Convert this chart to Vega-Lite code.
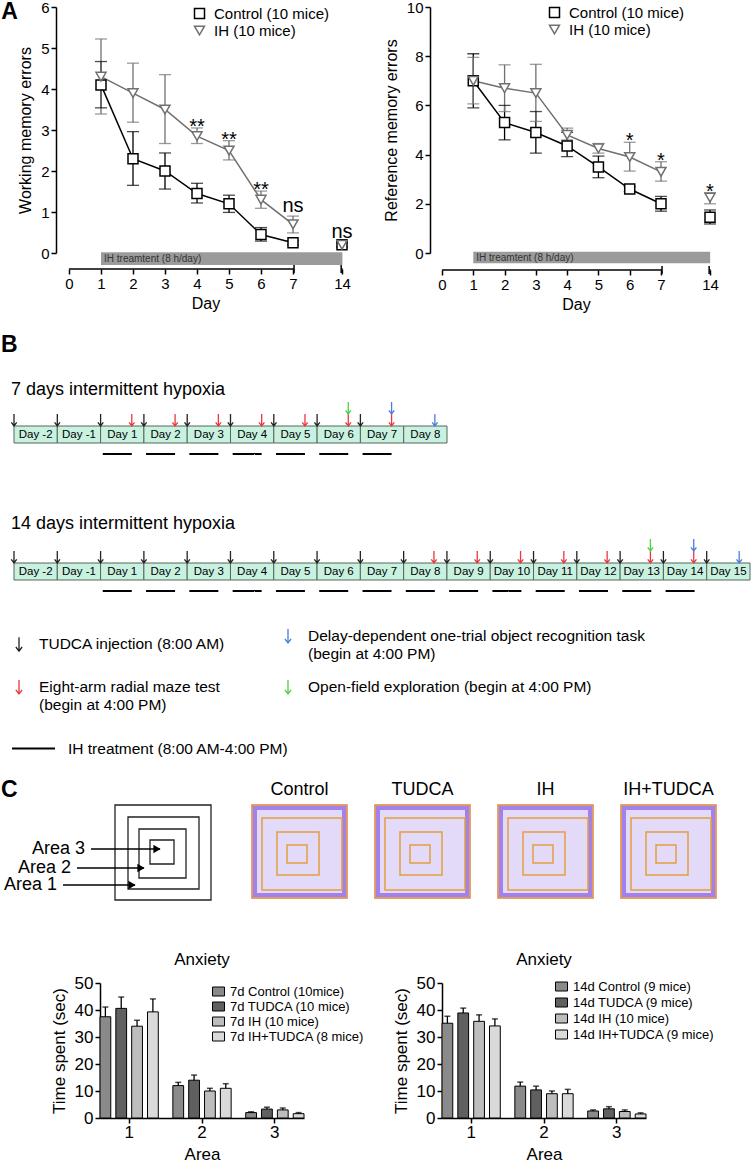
{
"$schema": "https://vega.github.io/schema/vega-lite/v6.json",
"background": "white",
"padding": 0,
"config": {
  "font": "Liberation Sans",
  "view": {"stroke": null},
  "axis": {"grid": false, "domainColor": "#000", "tickColor": "#000", "labelColor": "#000", "titleColor": "#000", "titleFontWeight": "normal", "domainWidth": 1.5, "tickWidth": 1.5, "labelOverlap": false, "labelFlush": false},
  "legend": {"padding": 0, "labelColor": "#000", "labelLimit": 600},
  "title": {"color": "#000", "fontWeight": "normal"},
  "header": {"labelColor": "#000"}
},
"datasets": {
  "wm": [
    {"series": "Control (10 mice)", "day": 1, "mean": 4.1, "lo": 3.54, "hi": 4.67},
    {"series": "Control (10 mice)", "day": 2, "mean": 2.3, "lo": 1.65, "hi": 2.96},
    {"series": "Control (10 mice)", "day": 3, "mean": 2.0, "lo": 1.56, "hi": 2.44},
    {"series": "Control (10 mice)", "day": 4, "mean": 1.45, "lo": 1.22, "hi": 1.7},
    {"series": "Control (10 mice)", "day": 5, "mean": 1.2, "lo": 0.99, "hi": 1.41},
    {"series": "Control (10 mice)", "day": 6, "mean": 0.45, "lo": 0.29, "hi": 0.62},
    {"series": "Control (10 mice)", "day": 7, "mean": 0.25, "lo": 0.2, "hi": 0.3},
    {"series": "Control (10 mice)", "day": 14, "mean": 0.2, "lo": 0.15, "hi": 0.25},
    {"series": "IH (10 mice)", "day": 1, "mean": 4.3, "lo": 3.39, "hi": 5.22},
    {"series": "IH (10 mice)", "day": 2, "mean": 3.9, "lo": 3.19, "hi": 4.63},
    {"series": "IH (10 mice)", "day": 3, "mean": 3.5, "lo": 2.67, "hi": 4.35},
    {"series": "IH (10 mice)", "day": 4, "mean": 2.85, "lo": 2.67, "hi": 3.05, "sig": "**"},
    {"series": "IH (10 mice)", "day": 5, "mean": 2.5, "lo": 2.27, "hi": 2.74, "sig": "**"},
    {"series": "IH (10 mice)", "day": 6, "mean": 1.3, "lo": 1.09, "hi": 1.51, "sig": "**"},
    {"series": "IH (10 mice)", "day": 7, "mean": 0.7, "lo": 0.49, "hi": 0.9, "sig": "ns"},
    {"series": "IH (10 mice)", "day": 14, "mean": 0.2, "lo": 0.14, "hi": 0.27, "sig": "ns"}
  ],
  "rm": [
    {"series": "Control (10 mice)", "day": 1, "mean": 7.0, "lo": 5.9, "hi": 8.1},
    {"series": "Control (10 mice)", "day": 2, "mean": 5.3, "lo": 4.6, "hi": 6.0},
    {"series": "Control (10 mice)", "day": 3, "mean": 4.9, "lo": 4.06, "hi": 5.75},
    {"series": "Control (10 mice)", "day": 4, "mean": 4.35, "lo": 3.92, "hi": 4.9},
    {"series": "Control (10 mice)", "day": 5, "mean": 3.5, "lo": 3.06, "hi": 3.94},
    {"series": "Control (10 mice)", "day": 6, "mean": 2.6, "lo": 2.5, "hi": 2.7},
    {"series": "Control (10 mice)", "day": 7, "mean": 2.0, "lo": 1.7, "hi": 2.3},
    {"series": "Control (10 mice)", "day": 14, "mean": 1.45, "lo": 1.18, "hi": 1.75},
    {"series": "IH (10 mice)", "day": 1, "mean": 7.0, "lo": 6.06, "hi": 7.95},
    {"series": "IH (10 mice)", "day": 2, "mean": 6.7, "lo": 5.75, "hi": 7.65},
    {"series": "IH (10 mice)", "day": 3, "mean": 6.5, "lo": 5.35, "hi": 7.67},
    {"series": "IH (10 mice)", "day": 4, "mean": 4.8, "lo": 4.6, "hi": 5.08},
    {"series": "IH (10 mice)", "day": 5, "mean": 4.25, "lo": 4.06, "hi": 4.45},
    {"series": "IH (10 mice)", "day": 6, "mean": 3.9, "lo": 3.33, "hi": 4.5, "sig": "*"},
    {"series": "IH (10 mice)", "day": 7, "mean": 3.3, "lo": 2.92, "hi": 3.71, "sig": "*"},
    {"series": "IH (10 mice)", "day": 14, "mean": 2.25, "lo": 2.0, "hi": 2.45, "sig": "*"}
  ],
  "ihbar1": [{"start": 1, "end": 14.06, "label": "IH treamtent (8 h/day)"}],
  "ihbar2": [{"start": 1, "end": 14.02, "label": "IH treamtent (8 h/day)"}],
  "axseg": [{"from": 0, "to": 7.15}, {"from": 13.88, "to": 14.1}],
  "breaks": [{"at": 7.15}, {"at": 13.88}],
  "events": [
    {"code": "inj", "event": "TUDCA injection (8:00 AM)"},
    {"code": "obj", "event": "Delay-dependent one-trial object recognition task (begin at 4:00 PM)"},
    {"code": "maze", "event": "Eight-arm radial maze test (begin at 4:00 PM)"},
    {"code": "open", "event": "Open-field exploration (begin at 4:00 PM)"}
  ],
  "days7": [
    {"start": 0, "end": 1, "day": "Day -2"}, {"start": 1, "end": 2, "day": "Day -1"},
    {"start": 2, "end": 3, "day": "Day 1"}, {"start": 3, "end": 4, "day": "Day 2"},
    {"start": 4, "end": 5, "day": "Day 3"}, {"start": 5, "end": 6, "day": "Day 4"},
    {"start": 6, "end": 7, "day": "Day 5"}, {"start": 7, "end": 8, "day": "Day 6"},
    {"start": 8, "end": 9, "day": "Day 7"}, {"start": 9, "end": 10, "day": "Day 8"}
  ],
  "days14": [
    {"start": 0, "end": 1, "day": "Day -2"}, {"start": 1, "end": 2, "day": "Day -1"},
    {"start": 2, "end": 3, "day": "Day 1"}, {"start": 3, "end": 4, "day": "Day 2"},
    {"start": 4, "end": 5, "day": "Day 3"}, {"start": 5, "end": 6, "day": "Day 4"},
    {"start": 6, "end": 7, "day": "Day 5"}, {"start": 7, "end": 8, "day": "Day 6"},
    {"start": 8, "end": 9, "day": "Day 7"}, {"start": 9, "end": 10, "day": "Day 8"},
    {"start": 10, "end": 11, "day": "Day 9"}, {"start": 11, "end": 12, "day": "Day 10"},
    {"start": 12, "end": 13, "day": "Day 11"}, {"start": 13, "end": 14, "day": "Day 12"},
    {"start": 14, "end": 15, "day": "Day 13"}, {"start": 15, "end": 16, "day": "Day 14"},
    {"start": 16, "end": 17, "day": "Day 15"}
  ],
  "ev7": [
    {"t": 0, "code": "inj", "level": 0}, {"t": 1, "code": "inj", "level": 0}, {"t": 2, "code": "inj", "level": 0},
    {"t": 3, "code": "inj", "level": 0}, {"t": 4, "code": "inj", "level": 0}, {"t": 5, "code": "inj", "level": 0},
    {"t": 6, "code": "inj", "level": 0}, {"t": 7, "code": "inj", "level": 0}, {"t": 8, "code": "inj", "level": 0},
    {"t": 2.72, "code": "maze", "level": 0}, {"t": 3.72, "code": "maze", "level": 0}, {"t": 4.72, "code": "maze", "level": 0},
    {"t": 5.72, "code": "maze", "level": 0}, {"t": 6.72, "code": "maze", "level": 0}, {"t": 7.72, "code": "maze", "level": 0},
    {"t": 8.72, "code": "maze", "level": 0},
    {"t": 7.72, "code": "open", "level": 1}, {"t": 8.72, "code": "obj", "level": 1}, {"t": 9.72, "code": "obj", "level": 0}
  ],
  "ev14": [
    {"t": 0, "code": "inj", "level": 0}, {"t": 1, "code": "inj", "level": 0}, {"t": 2, "code": "inj", "level": 0},
    {"t": 3, "code": "inj", "level": 0}, {"t": 4, "code": "inj", "level": 0}, {"t": 5, "code": "inj", "level": 0},
    {"t": 6, "code": "inj", "level": 0}, {"t": 7, "code": "inj", "level": 0}, {"t": 8, "code": "inj", "level": 0},
    {"t": 9, "code": "inj", "level": 0}, {"t": 10, "code": "inj", "level": 0}, {"t": 11, "code": "inj", "level": 0},
    {"t": 12, "code": "inj", "level": 0}, {"t": 13, "code": "inj", "level": 0}, {"t": 14, "code": "inj", "level": 0},
    {"t": 15, "code": "inj", "level": 0}, {"t": 16, "code": "inj", "level": 0},
    {"t": 9.7, "code": "maze", "level": 0}, {"t": 10.7, "code": "maze", "level": 0}, {"t": 11.7, "code": "maze", "level": 0},
    {"t": 12.7, "code": "maze", "level": 0}, {"t": 13.7, "code": "maze", "level": 0}, {"t": 14.7, "code": "maze", "level": 0},
    {"t": 15.7, "code": "maze", "level": 0},
    {"t": 14.7, "code": "open", "level": 1}, {"t": 15.7, "code": "obj", "level": 1}, {"t": 16.75, "code": "obj", "level": 0}
  ],
  "ih7": [
    {"start": 2.05, "end": 2.72, "treatment": "IH treatment (8:00 AM-4:00 PM)"},
    {"start": 3.05, "end": 3.72, "treatment": "IH treatment (8:00 AM-4:00 PM)"},
    {"start": 4.05, "end": 4.72, "treatment": "IH treatment (8:00 AM-4:00 PM)"},
    {"start": 5.05, "end": 5.72, "treatment": "IH treatment (8:00 AM-4:00 PM)"},
    {"start": 6.05, "end": 6.72, "treatment": "IH treatment (8:00 AM-4:00 PM)"},
    {"start": 7.05, "end": 7.72, "treatment": "IH treatment (8:00 AM-4:00 PM)"},
    {"start": 8.05, "end": 8.72, "treatment": "IH treatment (8:00 AM-4:00 PM)"}
  ],
  "ih14": [
    {"start": 2.05, "end": 2.72, "treatment": "IH treatment (8:00 AM-4:00 PM)"},
    {"start": 3.05, "end": 3.72, "treatment": "IH treatment (8:00 AM-4:00 PM)"},
    {"start": 4.05, "end": 4.72, "treatment": "IH treatment (8:00 AM-4:00 PM)"},
    {"start": 5.05, "end": 5.72, "treatment": "IH treatment (8:00 AM-4:00 PM)"},
    {"start": 6.05, "end": 6.72, "treatment": "IH treatment (8:00 AM-4:00 PM)"},
    {"start": 7.05, "end": 7.72, "treatment": "IH treatment (8:00 AM-4:00 PM)"},
    {"start": 8.05, "end": 8.72, "treatment": "IH treatment (8:00 AM-4:00 PM)"},
    {"start": 9.05, "end": 9.72, "treatment": "IH treatment (8:00 AM-4:00 PM)"},
    {"start": 10.05, "end": 10.72, "treatment": "IH treatment (8:00 AM-4:00 PM)"},
    {"start": 11.05, "end": 11.72, "treatment": "IH treatment (8:00 AM-4:00 PM)"},
    {"start": 12.05, "end": 12.72, "treatment": "IH treatment (8:00 AM-4:00 PM)"},
    {"start": 13.05, "end": 13.72, "treatment": "IH treatment (8:00 AM-4:00 PM)"},
    {"start": 14.05, "end": 14.72, "treatment": "IH treatment (8:00 AM-4:00 PM)"},
    {"start": 15.05, "end": 15.72, "treatment": "IH treatment (8:00 AM-4:00 PM)"}
  ],
  "schem": [
    {"x0": 114, "x1": 210, "y0": 0, "y1": 95},
    {"x0": 127, "x1": 198, "y0": 12, "y1": 84},
    {"x0": 138, "x1": 185, "y0": 24, "y1": 73},
    {"x0": 149, "x1": 173, "y0": 35, "y1": 59}
  ],
  "areas": [
    {"label": "Area 3", "x0": 90, "x1": 159, "y": 44},
    {"label": "Area 2", "x0": 76, "x1": 143, "y": 63},
    {"label": "Area 1", "x0": 62, "x1": 134, "y": 80}
  ],
  "arena": [
    {"cond": "Control", "part": "outer", "x0": 0, "x1": 95, "y0": 0, "y1": 93},
    {"cond": "Control", "part": "wall", "x0": 3, "x1": 92, "y0": 3, "y1": 90},
    {"cond": "Control", "part": "sq", "x0": 10, "x1": 90, "y0": 13, "y1": 85},
    {"cond": "Control", "part": "sq", "x0": 25, "x1": 67, "y0": 27, "y1": 70},
    {"cond": "Control", "part": "sq", "x0": 35, "x1": 55, "y0": 40, "y1": 58},
    {"cond": "TUDCA", "part": "outer", "x0": 0, "x1": 95, "y0": 0, "y1": 93},
    {"cond": "TUDCA", "part": "wall", "x0": 3, "x1": 92, "y0": 3, "y1": 90},
    {"cond": "TUDCA", "part": "sq", "x0": 10, "x1": 90, "y0": 13, "y1": 85},
    {"cond": "TUDCA", "part": "sq", "x0": 25, "x1": 67, "y0": 27, "y1": 70},
    {"cond": "TUDCA", "part": "sq", "x0": 35, "x1": 55, "y0": 40, "y1": 58},
    {"cond": "IH", "part": "outer", "x0": 0, "x1": 95, "y0": 0, "y1": 93},
    {"cond": "IH", "part": "wall", "x0": 3, "x1": 92, "y0": 3, "y1": 90},
    {"cond": "IH", "part": "sq", "x0": 10, "x1": 90, "y0": 13, "y1": 85},
    {"cond": "IH", "part": "sq", "x0": 25, "x1": 67, "y0": 27, "y1": 70},
    {"cond": "IH", "part": "sq", "x0": 35, "x1": 55, "y0": 40, "y1": 58},
    {"cond": "IH+TUDCA", "part": "outer", "x0": 0, "x1": 95, "y0": 0, "y1": 93},
    {"cond": "IH+TUDCA", "part": "wall", "x0": 3, "x1": 92, "y0": 3, "y1": 90},
    {"cond": "IH+TUDCA", "part": "sq", "x0": 10, "x1": 90, "y0": 13, "y1": 85},
    {"cond": "IH+TUDCA", "part": "sq", "x0": 25, "x1": 67, "y0": 27, "y1": 70},
    {"cond": "IH+TUDCA", "part": "sq", "x0": 35, "x1": 55, "y0": 40, "y1": 58}
  ],
  "bars7": [
    {"area": 1, "group": "7d Control (10mice)", "mean": 37.5, "hi": 41.1},
    {"area": 1, "group": "7d TUDCA (10 mice)", "mean": 40.6, "hi": 44.8},
    {"area": 1, "group": "7d IH (10 mice)", "mean": 34.0, "hi": 36.2},
    {"area": 1, "group": "7d IH+TUDCA (8 mice)", "mean": 39.3, "hi": 44.1},
    {"area": 2, "group": "7d Control (10mice)", "mean": 12.0, "hi": 13.2},
    {"area": 2, "group": "7d TUDCA (10 mice)", "mean": 14.0, "hi": 15.9},
    {"area": 2, "group": "7d IH (10 mice)", "mean": 10.0, "hi": 11.0},
    {"area": 2, "group": "7d IH+TUDCA (8 mice)", "mean": 11.0, "hi": 12.7},
    {"area": 3, "group": "7d Control (10mice)", "mean": 2.0, "hi": 2.3},
    {"area": 3, "group": "7d TUDCA (10 mice)", "mean": 3.3, "hi": 4.0},
    {"area": 3, "group": "7d IH (10 mice)", "mean": 3.0, "hi": 3.7},
    {"area": 3, "group": "7d IH+TUDCA (8 mice)", "mean": 1.6, "hi": 2.0}
  ],
  "bars14": [
    {"area": 1, "group": "14d Control (9 mice)", "mean": 35.1, "hi": 37.7},
    {"area": 1, "group": "14d TUDCA (9 mice)", "mean": 38.9, "hi": 40.7},
    {"area": 1, "group": "14d IH (10 mice)", "mean": 35.8, "hi": 38.2},
    {"area": 1, "group": "14d IH+TUDCA (9 mice)", "mean": 34.1, "hi": 36.7},
    {"area": 2, "group": "14d Control (9 mice)", "mean": 11.8, "hi": 13.3},
    {"area": 2, "group": "14d TUDCA (9 mice)", "mean": 10.4, "hi": 11.8},
    {"area": 2, "group": "14d IH (10 mice)", "mean": 9.0, "hi": 10.0},
    {"area": 2, "group": "14d IH+TUDCA (9 mice)", "mean": 9.0, "hi": 10.6},
    {"area": 3, "group": "14d Control (9 mice)", "mean": 2.6, "hi": 3.0},
    {"area": 3, "group": "14d TUDCA (9 mice)", "mean": 3.4, "hi": 4.2},
    {"area": 3, "group": "14d IH (10 mice)", "mean": 2.4, "hi": 3.0},
    {"area": 3, "group": "14d IH+TUDCA (9 mice)", "mean": 1.5, "hi": 1.9}
  ]
},
"concat": [
 {
  "concat": [
   {
    "hconcat": [
     {"width": 1, "height": 1, "data": {"values": []}, "mark": "point"},
     {
      "hconcat": [
       {
        "width": 280, "height": 246,
        "layer": [
         {"data": {"values": [{"label": "A"}]}, "mark": {"type": "text", "fontSize": 23, "fontWeight": "bold", "align": "left", "baseline": "alphabetic"},
          "encoding": {
            "x": {"datum": -2.12, "type": "quantitative", "scale": {"domain": [0, 7, 14], "range": [0, 224, 273], "nice": false, "zero": false},
                  "axis": {"values": [0, 1, 2, 3, 4, 5, 6, 7, 14], "tickCount": 20, "format": "d", "offset": 16, "domain": false, "tickSize": 5, "labelFontSize": 15, "labelPadding": 2, "title": "Day", "titleFontSize": 16, "titlePadding": 4, "labelFlush": false, "labelOverlap": false}},
            "y": {"datum": 5.7, "type": "quantitative", "scale": {"domain": [0, 6], "nice": false, "zero": false},
                  "axis": {"values": [0, 1, 2, 3, 4, 5, 6], "tickCount": 20, "format": "d", "offset": 13, "tickSize": 5, "labelFontSize": 15, "labelPadding": 2, "title": "Working memory errors", "titleFontSize": 16, "titlePadding": 7}},
            "text": {"field": "label"}}},
         {"data": {"name": "ihbar1"}, "mark": {"type": "rect", "color": "#9b9b9b"},
          "encoding": {"x": {"field": "start", "type": "quantitative"}, "x2": {"field": "end"}, "y": {"datum": 0.02, "type": "quantitative"}, "y2": {"datum": -0.29}}},
         {"data": {"name": "ihbar1"}, "mark": {"type": "text", "align": "left", "baseline": "middle", "dx": 3, "fontSize": 10, "color": "#333"},
          "encoding": {"x": {"field": "start", "type": "quantitative"}, "y": {"datum": -0.135, "type": "quantitative"}, "text": {"field": "label"}}},
         {"data": {"name": "axseg"}, "mark": {"type": "rule", "color": "#000", "strokeWidth": 1.5, "yOffset": 16},
          "encoding": {"x": {"field": "from", "type": "quantitative"}, "x2": {"field": "to"}, "y": {"datum": 0, "type": "quantitative"}}},
         {"data": {"name": "breaks"}, "mark": {"type": "rule", "color": "#000", "strokeWidth": 1.5, "yOffset": 12, "y2Offset": 20},
          "encoding": {"x": {"field": "at", "type": "quantitative"}, "y": {"datum": 0, "type": "quantitative"}, "y2": {"datum": 0}}},
         {"data": {"name": "wm"}, "mark": {"type": "rule", "strokeWidth": 1.3},
          "encoding": {"x": {"field": "day", "type": "quantitative"}, "y": {"field": "lo", "type": "quantitative"}, "y2": {"field": "hi"},
            "color": {"field": "series", "type": "nominal", "scale": {"domain": ["IH (10 mice)", "Control (10 mice)"], "range": ["#707070", "#000000"]}, "legend": null}}},
         {"data": {"name": "wm"}, "mark": {"type": "tick", "orient": "horizontal", "size": 12, "thickness": 1.3},
          "encoding": {"x": {"field": "day", "type": "quantitative"}, "y": {"field": "hi", "type": "quantitative"},
            "color": {"field": "series", "type": "nominal", "scale": {"domain": ["IH (10 mice)", "Control (10 mice)"], "range": ["#707070", "#000000"]}, "legend": null}}},
         {"data": {"name": "wm"}, "mark": {"type": "tick", "orient": "horizontal", "size": 12, "thickness": 1.3},
          "encoding": {"x": {"field": "day", "type": "quantitative"}, "y": {"field": "lo", "type": "quantitative"},
            "color": {"field": "series", "type": "nominal", "scale": {"domain": ["IH (10 mice)", "Control (10 mice)"], "range": ["#707070", "#000000"]}, "legend": null}}},
         {"data": {"name": "wm"}, "transform": [{"filter": "datum.day <= 7"}], "mark": {"type": "line", "strokeWidth": 1.5},
          "encoding": {"x": {"field": "day", "type": "quantitative"}, "y": {"field": "mean", "type": "quantitative"},
            "stroke": {"field": "series", "type": "nominal", "scale": {"domain": ["Control (10 mice)", "IH (10 mice)"], "range": ["#000000", "#707070"]},
              "legend": {"orient": "none", "legendX": 123, "legendY": -1, "title": null, "labelFontSize": 15, "symbolSize": 100, "symbolStrokeWidth": 1.5, "symbolFillColor": "white", "labelOffset": 7, "rowPadding": 1}}}},
         {"data": {"name": "wm"}, "mark": {"type": "point", "filled": true, "fill": "white", "size": 100, "strokeWidth": 1.5, "opacity": 1},
          "encoding": {"x": {"field": "day", "type": "quantitative"}, "y": {"field": "mean", "type": "quantitative"},
            "stroke": {"field": "series", "type": "nominal", "scale": {"domain": ["Control (10 mice)", "IH (10 mice)"], "range": ["#000000", "#707070"]},
              "legend": {"orient": "none", "legendX": 123, "legendY": -1, "title": null, "labelFontSize": 15, "symbolSize": 100, "symbolStrokeWidth": 1.5, "symbolFillColor": "white", "labelOffset": 7, "rowPadding": 1}},
            "shape": {"field": "series", "type": "nominal", "scale": {"domain": ["Control (10 mice)", "IH (10 mice)"], "range": ["square", "triangle-down"]}}}},
         {"data": {"name": "wm"}, "transform": [{"filter": "datum.sig == '**'"}], "mark": {"type": "text", "fontSize": 20, "baseline": "alphabetic", "dy": 5, "color": "#000"},
          "encoding": {"x": {"field": "day", "type": "quantitative"}, "y": {"field": "hi", "type": "quantitative"}, "text": {"field": "sig"}}},
         {"data": {"name": "wm"}, "transform": [{"filter": "datum.sig == 'ns'"}], "mark": {"type": "text", "fontSize": 20, "baseline": "alphabetic", "dy": -4, "color": "#000"},
          "encoding": {"x": {"field": "day", "type": "quantitative"}, "y": {"field": "hi", "type": "quantitative"}, "text": {"field": "sig"}}}
        ]
       },
       {
        "width": 280, "height": 246,
        "layer": [
         {"data": {"name": "ihbar2"}, "mark": {"type": "rect", "color": "#9b9b9b"},
          "encoding": {
            "x": {"field": "start", "type": "quantitative", "scale": {"domain": [0, 7, 14], "range": [0, 219, 268], "nice": false, "zero": false},
                  "axis": {"values": [0, 1, 2, 3, 4, 5, 6, 7, 14], "tickCount": 20, "format": "d", "offset": 17, "domain": false, "tickSize": 5, "labelFontSize": 15, "labelPadding": 2, "title": "Day", "titleFontSize": 16, "titlePadding": 4, "labelFlush": false, "labelOverlap": false}},
            "x2": {"field": "end"},
            "y": {"datum": 0.05, "type": "quantitative", "scale": {"domain": [0, 10], "nice": false, "zero": false},
                  "axis": {"values": [0, 2, 4, 6, 8, 10], "tickCount": 20, "format": "d", "offset": 12, "tickSize": 5, "labelFontSize": 15, "labelPadding": 2, "title": "Reference memory errors", "titleFontSize": 16, "titlePadding": 7}},
            "y2": {"datum": -0.42}}},
         {"data": {"name": "ihbar2"}, "mark": {"type": "text", "align": "left", "baseline": "middle", "dx": 3, "fontSize": 10, "color": "#333"},
          "encoding": {"x": {"field": "start", "type": "quantitative"}, "y": {"datum": -0.185, "type": "quantitative"}, "text": {"field": "label"}}},
         {"data": {"name": "axseg"}, "mark": {"type": "rule", "color": "#000", "strokeWidth": 1.5, "yOffset": 17},
          "encoding": {"x": {"field": "from", "type": "quantitative"}, "x2": {"field": "to"}, "y": {"datum": 0, "type": "quantitative"}}},
         {"data": {"name": "breaks"}, "mark": {"type": "rule", "color": "#000", "strokeWidth": 1.5, "yOffset": 13, "y2Offset": 21},
          "encoding": {"x": {"field": "at", "type": "quantitative"}, "y": {"datum": 0, "type": "quantitative"}, "y2": {"datum": 0}}},
         {"data": {"name": "rm"}, "mark": {"type": "rule", "strokeWidth": 1.3},
          "encoding": {"x": {"field": "day", "type": "quantitative"}, "y": {"field": "lo", "type": "quantitative"}, "y2": {"field": "hi"},
            "color": {"field": "series", "type": "nominal", "scale": {"domain": ["IH (10 mice)", "Control (10 mice)"], "range": ["#707070", "#000000"]}, "legend": null}}},
         {"data": {"name": "rm"}, "mark": {"type": "tick", "orient": "horizontal", "size": 12, "thickness": 1.3},
          "encoding": {"x": {"field": "day", "type": "quantitative"}, "y": {"field": "hi", "type": "quantitative"},
            "color": {"field": "series", "type": "nominal", "scale": {"domain": ["IH (10 mice)", "Control (10 mice)"], "range": ["#707070", "#000000"]}, "legend": null}}},
         {"data": {"name": "rm"}, "mark": {"type": "tick", "orient": "horizontal", "size": 12, "thickness": 1.3},
          "encoding": {"x": {"field": "day", "type": "quantitative"}, "y": {"field": "lo", "type": "quantitative"},
            "color": {"field": "series", "type": "nominal", "scale": {"domain": ["IH (10 mice)", "Control (10 mice)"], "range": ["#707070", "#000000"]}, "legend": null}}},
         {"data": {"name": "rm"}, "transform": [{"filter": "datum.day <= 7"}], "mark": {"type": "line", "strokeWidth": 1.5},
          "encoding": {"x": {"field": "day", "type": "quantitative"}, "y": {"field": "mean", "type": "quantitative"},
            "stroke": {"field": "series", "type": "nominal", "scale": {"domain": ["Control (10 mice)", "IH (10 mice)"], "range": ["#000000", "#707070"]},
              "legend": {"orient": "none", "legendX": 105, "legendY": -2, "title": null, "labelFontSize": 15, "symbolSize": 100, "symbolStrokeWidth": 1.5, "symbolFillColor": "white", "labelOffset": 7, "rowPadding": 1}}}},
         {"data": {"name": "rm"}, "mark": {"type": "point", "filled": true, "fill": "white", "size": 100, "strokeWidth": 1.5, "opacity": 1},
          "encoding": {"x": {"field": "day", "type": "quantitative"}, "y": {"field": "mean", "type": "quantitative"},
            "stroke": {"field": "series", "type": "nominal", "scale": {"domain": ["Control (10 mice)", "IH (10 mice)"], "range": ["#000000", "#707070"]},
              "legend": {"orient": "none", "legendX": 105, "legendY": -2, "title": null, "labelFontSize": 15, "symbolSize": 100, "symbolStrokeWidth": 1.5, "symbolFillColor": "white", "labelOffset": 7, "rowPadding": 1}},
            "shape": {"field": "series", "type": "nominal", "scale": {"domain": ["Control (10 mice)", "IH (10 mice)"], "range": ["square", "triangle-down"]}}}},
         {"data": {"name": "rm"}, "transform": [{"filter": "datum.sig == '*'"}], "mark": {"type": "text", "fontSize": 20, "baseline": "alphabetic", "dy": 5, "color": "#000"},
          "encoding": {"x": {"field": "day", "type": "quantitative"}, "y": {"field": "hi", "type": "quantitative"}, "text": {"field": "sig"}}}
        ]
       }
      ],
      "spacing": 30,
      "resolve": {"scale": {"color": "independent", "stroke": "independent", "shape": "independent", "x": "independent", "y": "independent"}, "legend": {"color": "independent", "stroke": "independent", "shape": "independent"}}
     }
    ],
    "spacing": 0
   },
   {
    "hconcat": [
     {"width": 1, "height": 1, "data": {"values": []}, "mark": "point"},
     {
      "vconcat": [
       {
        "width": 433, "height": 120,
        "layer": [
         {"data": {"values": [{"label": "B"}]}, "mark": {"type": "text", "fontSize": 23, "fontWeight": "bold", "align": "left", "baseline": "alphabetic"},
          "encoding": {"x": {"datum": -0.3, "type": "quantitative", "scale": {"domain": [0, 10], "nice": false, "zero": false}, "axis": null},
            "y": {"datum": -48, "type": "quantitative", "scale": {"domain": [-64, 56], "reverse": true, "nice": false, "zero": false}, "axis": null}, "text": {"field": "label"}}},
         {"data": {"values": [{"label": "7 days intermittent hypoxia"}]}, "mark": {"type": "text", "fontSize": 18, "align": "left", "baseline": "alphabetic"},
          "encoding": {"x": {"datum": -0.07, "type": "quantitative"}, "y": {"datum": -5, "type": "quantitative"}, "text": {"field": "label"}}},
         {"data": {"name": "days7"}, "mark": {"type": "rect", "fill": "#c9f1e0", "stroke": "#56675d", "strokeWidth": 1},
          "encoding": {"x": {"field": "start", "type": "quantitative"}, "x2": {"field": "end"}, "y": {"datum": 26, "type": "quantitative"}, "y2": {"datum": 43}}},
         {"data": {"name": "days7"}, "mark": {"type": "text", "fontSize": 11.5, "dx": 21.65, "align": "center", "baseline": "middle", "color": "#000"},
          "encoding": {"x": {"field": "start", "type": "quantitative"}, "y": {"datum": 34.5, "type": "quantitative"}, "text": {"field": "day"}}},
         {"data": {"name": "ih7"}, "mark": {"type": "rule", "color": "#000", "strokeWidth": 2},
          "encoding": {"x": {"field": "start", "type": "quantitative"}, "x2": {"field": "end"}, "y": {"datum": 54, "type": "quantitative"},
            "strokeDash": {"field": "treatment", "type": "nominal", "scale": {"range": [[1, 0]]}, "legend": null}}},
         {"data": {"name": "ev7"}, "transform": [{"filter": "datum.level == 0"}, {"lookup": "code", "from": {"data": {"name": "events"}, "key": "code", "fields": ["event"]}}],
          "mark": {"type": "point", "shape": "M0,-1V1M-0.45,0.4L0,1L0.45,0.4", "filled": false, "strokeWidth": 1.3, "size": 144, "opacity": 1},
          "encoding": {"x": {"field": "t", "type": "quantitative"}, "y": {"datum": 20, "type": "quantitative"},
            "color": {"field": "event", "type": "nominal", "scale": {"domain": ["TUDCA injection (8:00 AM)", "Eight-arm radial maze test (begin at 4:00 PM)", "Delay-dependent one-trial object recognition task (begin at 4:00 PM)", "Open-field exploration (begin at 4:00 PM)"], "range": ["#222222", "#e8383d", "#4a7de0", "#4fcf45"]}, "legend": null}}},
         {"data": {"name": "ev7"}, "transform": [{"filter": "datum.level == 1"}, {"lookup": "code", "from": {"data": {"name": "events"}, "key": "code", "fields": ["event"]}}],
          "mark": {"type": "point", "shape": "M0,-1V1M-0.45,0.4L0,1L0.45,0.4", "filled": false, "strokeWidth": 1.3, "size": 144, "opacity": 1},
          "encoding": {"x": {"field": "t", "type": "quantitative"}, "y": {"datum": 8, "type": "quantitative"},
            "color": {"field": "event", "type": "nominal", "scale": {"domain": ["TUDCA injection (8:00 AM)", "Eight-arm radial maze test (begin at 4:00 PM)", "Delay-dependent one-trial object recognition task (begin at 4:00 PM)", "Open-field exploration (begin at 4:00 PM)"], "range": ["#222222", "#e8383d", "#4a7de0", "#4fcf45"]}, "legend": null}}}
        ]
       },
       {
        "width": 736, "height": 91,
        "layer": [
         {"data": {"values": [{"label": "14 days intermittent hypoxia"}]}, "mark": {"type": "text", "fontSize": 18, "align": "left", "baseline": "alphabetic"},
          "encoding": {"x": {"datum": -0.07, "type": "quantitative", "scale": {"domain": [0, 17], "nice": false, "zero": false}, "axis": null},
            "y": {"datum": -8, "type": "quantitative", "scale": {"domain": [-35, 56], "reverse": true, "nice": false, "zero": false}, "axis": null}, "text": {"field": "label"}}},
         {"data": {"name": "days14"}, "mark": {"type": "rect", "fill": "#c9f1e0", "stroke": "#56675d", "strokeWidth": 1},
          "encoding": {"x": {"field": "start", "type": "quantitative"}, "x2": {"field": "end"}, "y": {"datum": 26, "type": "quantitative"}, "y2": {"datum": 43}}},
         {"data": {"name": "days14"}, "mark": {"type": "text", "fontSize": 11.5, "dx": 21.65, "align": "center", "baseline": "middle", "color": "#000"},
          "encoding": {"x": {"field": "start", "type": "quantitative"}, "y": {"datum": 34.5, "type": "quantitative"}, "text": {"field": "day"}}},
         {"data": {"name": "ih14"}, "mark": {"type": "rule", "color": "#000", "strokeWidth": 2},
          "encoding": {"x": {"field": "start", "type": "quantitative"}, "x2": {"field": "end"}, "y": {"datum": 54, "type": "quantitative"},
            "strokeDash": {"field": "treatment", "type": "nominal", "scale": {"range": [[1, 0]]},
              "legend": {"orient": "none", "legendX": -3, "legendY": 224, "title": null, "symbolType": "stroke", "symbolSize": 1849, "symbolStrokeWidth": 2, "symbolStrokeColor": "#000", "labelFontSize": 15.5, "labelOffset": 12}}}},
         {"data": {"name": "ev14"}, "transform": [{"filter": "datum.level == 0"}, {"lookup": "code", "from": {"data": {"name": "events"}, "key": "code", "fields": ["event"]}}],
          "mark": {"type": "point", "shape": "M0,-1V1M-0.45,0.4L0,1L0.45,0.4", "filled": false, "strokeWidth": 1.3, "size": 144, "opacity": 1},
          "encoding": {"x": {"field": "t", "type": "quantitative"}, "y": {"datum": 20, "type": "quantitative"},
            "color": {"field": "event", "type": "nominal", "scale": {"domain": ["TUDCA injection (8:00 AM)", "Eight-arm radial maze test (begin at 4:00 PM)", "Delay-dependent one-trial object recognition task (begin at 4:00 PM)", "Open-field exploration (begin at 4:00 PM)"], "range": ["#222222", "#e8383d", "#4a7de0", "#4fcf45"]},
              "legend": {"orient": "none", "legendX": -3, "legendY": 126, "title": null, "columns": 2, "columnPadding": 54, "rowPadding": 15, "symbolType": "M0,-1V1M-0.45,0.4L0,1L0.45,0.4", "symbolSize": 196, "symbolStrokeWidth": 1.3, "labelFontSize": 15.5, "labelOffset": 12, "labelLimit": 600,
                "labelExpr": "indexof(datum.label, ' (begin') > 0 && indexof(datum.label, 'Open-field') < 0 ? [substring(datum.label, 0, indexof(datum.label, ' (begin')), substring(datum.label, indexof(datum.label, ' (begin') + 1)] : datum.label"}}}},
         {"data": {"name": "ev14"}, "transform": [{"filter": "datum.level == 1"}, {"lookup": "code", "from": {"data": {"name": "events"}, "key": "code", "fields": ["event"]}}],
          "mark": {"type": "point", "shape": "M0,-1V1M-0.45,0.4L0,1L0.45,0.4", "filled": false, "strokeWidth": 1.3, "size": 144, "opacity": 1},
          "encoding": {"x": {"field": "t", "type": "quantitative"}, "y": {"datum": 8, "type": "quantitative"},
            "color": {"field": "event", "type": "nominal", "scale": {"domain": ["TUDCA injection (8:00 AM)", "Eight-arm radial maze test (begin at 4:00 PM)", "Delay-dependent one-trial object recognition task (begin at 4:00 PM)", "Open-field exploration (begin at 4:00 PM)"], "range": ["#222222", "#e8383d", "#4a7de0", "#4fcf45"]}}}}
        ]
       }
      ],
      "spacing": 46,
      "resolve": {"scale": {"color": "independent", "strokeDash": "independent", "x": "independent", "y": "independent"}, "legend": {"color": "independent", "strokeDash": "independent"}}
     }
    ],
    "spacing": 0
   },
   {
    "hconcat": [
     {"width": 1, "height": 1, "data": {"values": []}, "mark": "point"},
     {
      "hconcat": [
       {
        "width": 212, "height": 95,
        "layer": [
         {"data": {"values": [{"label": "C"}]}, "mark": {"type": "text", "fontSize": 23, "fontWeight": "bold", "align": "left", "baseline": "alphabetic"},
          "encoding": {"x": {"datum": 0, "type": "quantitative", "scale": {"domain": [0, 212], "nice": false, "zero": false}, "axis": null},
            "y": {"datum": -8, "type": "quantitative", "scale": {"domain": [0, 95], "reverse": true, "nice": false, "zero": false}, "axis": null}, "text": {"field": "label"}}},
         {"data": {"name": "schem"}, "mark": {"type": "rect", "fillOpacity": 0, "stroke": "#222", "strokeWidth": 1.3},
          "encoding": {"x": {"field": "x0", "type": "quantitative"}, "x2": {"field": "x1"}, "y": {"field": "y0", "type": "quantitative"}, "y2": {"field": "y1"}}},
         {"data": {"name": "areas"}, "mark": {"type": "text", "align": "right", "baseline": "middle", "dx": -6, "fontSize": 18, "color": "#000"},
          "encoding": {"x": {"field": "x0", "type": "quantitative"}, "y": {"field": "y", "type": "quantitative"}, "text": {"field": "label"}}},
         {"data": {"name": "areas"}, "mark": {"type": "rule", "color": "#000", "strokeWidth": 1.6},
          "encoding": {"x": {"field": "x0", "type": "quantitative"}, "x2": {"field": "x1"}, "y": {"field": "y", "type": "quantitative"}}},
         {"data": {"name": "areas"}, "mark": {"type": "point", "shape": "triangle-right", "filled": true, "color": "#000", "size": 70, "opacity": 1, "xOffset": -3},
          "encoding": {"x": {"field": "x1", "type": "quantitative"}, "y": {"field": "y", "type": "quantitative"}}}
        ]
       },
       {
        "data": {"name": "arena"},
        "facet": {"column": {"field": "cond", "type": "nominal", "sort": ["Control", "TUDCA", "IH", "IH+TUDCA"], "header": {"title": null, "labelFontSize": 18, "labelPadding": -9, "labelBaseline": "alphabetic"}}},
        "spacing": 26,
        "spec": {
         "width": 95, "height": 93,
         "layer": [
          {"transform": [{"filter": "datum.part == 'outer'"}], "mark": {"type": "rect", "fill": "#e2daf8", "stroke": "#e0843a", "strokeWidth": 1.5},
           "encoding": {"x": {"field": "x0", "type": "quantitative", "scale": {"domain": [0, 95], "nice": false, "zero": false}, "axis": null}, "x2": {"field": "x1"},
             "y": {"field": "y0", "type": "quantitative", "scale": {"domain": [0, 93], "reverse": true, "nice": false, "zero": false}, "axis": null}, "y2": {"field": "y1"}}},
          {"transform": [{"filter": "datum.part == 'wall'"}], "mark": {"type": "rect", "fillOpacity": 0, "stroke": "#8c64e6", "strokeWidth": 4, "strokeOpacity": 0.75},
           "encoding": {"x": {"field": "x0", "type": "quantitative"}, "x2": {"field": "x1"}, "y": {"field": "y0", "type": "quantitative"}, "y2": {"field": "y1"}}},
          {"transform": [{"filter": "datum.part == 'sq'"}], "mark": {"type": "rect", "fillOpacity": 0, "stroke": "#e3a03c", "strokeWidth": 1.5},
           "encoding": {"x": {"field": "x0", "type": "quantitative"}, "x2": {"field": "x1"}, "y": {"field": "y0", "type": "quantitative"}, "y2": {"field": "y1"}}}
         ]
        }
       }
      ],
      "spacing": 38,
      "resolve": {"scale": {"x": "independent", "y": "independent"}}
     }
    ],
    "spacing": 0
   }
  ],
  "columns": 1, "spacing": 22,
  "resolve": {"scale": {"color": "independent", "stroke": "independent", "shape": "independent", "strokeDash": "independent", "x": "independent", "y": "independent"}, "legend": {"color": "independent", "stroke": "independent", "shape": "independent", "strokeDash": "independent"}}
 },
 {
  "hconcat": [
   {"width": 22, "height": 1, "data": {"values": []}, "mark": "point"},
   {
    "title": {"text": "Anxiety", "fontSize": 17, "baseline": "alphabetic", "offset": -8},
    "data": {"name": "bars7"},
    "width": 204, "height": 135,
    "encoding": {
      "x": {"field": "area", "type": "nominal", "scale": {"paddingInner": 0.2, "paddingOuter": 0}, "axis": {"labelAngle": 0, "labelFontSize": 17, "tickSize": 5, "title": "Area", "titleFontSize": 17, "titlePadding": 6, "labelPadding": 1}},
      "xOffset": {"field": "group", "type": "nominal", "scale": {"domain": ["7d Control (10mice)", "7d TUDCA (10 mice)", "7d IH (10 mice)", "7d IH+TUDCA (8 mice)"], "paddingInner": 0.32, "paddingOuter": 0}}
    },
    "layer": [
     {"mark": {"type": "bar", "stroke": "#000", "strokeWidth": 1},
      "encoding": {"y": {"field": "mean", "type": "quantitative", "scale": {"domain": [0, 50], "nice": false}, "axis": {"values": [0, 10, 20, 30, 40, 50], "tickCount": 20, "format": "d", "labelFontSize": 17, "tickSize": 5, "labelPadding": 2, "title": "Time spent (sec)", "titleFontSize": 17, "titlePadding": 6}},
        "fill": {"field": "group", "type": "nominal", "scale": {"domain": ["7d Control (10mice)", "7d TUDCA (10 mice)", "7d IH (10 mice)", "7d IH+TUDCA (8 mice)"], "range": ["#8a8a8a", "#606060", "#bdbdbd", "#dadada"]},
          "legend": {"orient": "none", "legendX": 112, "legendY": 2, "title": null, "symbolType": "M-1,-0.75H1V0.75H-1Z", "symbolSize": 144, "symbolStrokeColor": "#000", "symbolStrokeWidth": 1, "labelFontSize": 13, "labelOffset": 5, "rowPadding": 1}}}},
     {"mark": {"type": "rule", "color": "#000", "strokeWidth": 1.3},
      "encoding": {"y": {"field": "mean", "type": "quantitative"}, "y2": {"field": "hi"}}},
     {"mark": {"type": "tick", "orient": "horizontal", "color": "#000", "size": 6, "thickness": 1.5},
      "encoding": {"y": {"field": "hi", "type": "quantitative"}}}
    ]
   },
   {
    "title": {"text": "Anxiety", "fontSize": 17, "baseline": "alphabetic", "offset": -8},
    "data": {"name": "bars14"},
    "width": 204, "height": 135,
    "encoding": {
      "x": {"field": "area", "type": "nominal", "scale": {"paddingInner": 0.2, "paddingOuter": 0}, "axis": {"labelAngle": 0, "labelFontSize": 17, "tickSize": 5, "title": "Area", "titleFontSize": 17, "titlePadding": 6, "labelPadding": 1}},
      "xOffset": {"field": "group", "type": "nominal", "scale": {"domain": ["14d Control (9 mice)", "14d TUDCA (9 mice)", "14d IH (10 mice)", "14d IH+TUDCA (9 mice)"], "paddingInner": 0.32, "paddingOuter": 0}}
    },
    "layer": [
     {"mark": {"type": "bar", "stroke": "#000", "strokeWidth": 1},
      "encoding": {"y": {"field": "mean", "type": "quantitative", "scale": {"domain": [0, 50], "nice": false}, "axis": {"values": [0, 10, 20, 30, 40, 50], "tickCount": 20, "format": "d", "labelFontSize": 17, "tickSize": 5, "labelPadding": 2, "title": "Time spent (sec)", "titleFontSize": 17, "titlePadding": 6}},
        "fill": {"field": "group", "type": "nominal", "scale": {"domain": ["14d Control (9 mice)", "14d TUDCA (9 mice)", "14d IH (10 mice)", "14d IH+TUDCA (9 mice)"], "range": ["#8a8a8a", "#606060", "#bdbdbd", "#dadada"]},
          "legend": {"orient": "none", "legendX": 113, "legendY": -3, "title": null, "symbolType": "M-1,-0.75H1V0.75H-1Z", "symbolSize": 144, "symbolStrokeColor": "#000", "symbolStrokeWidth": 1, "labelFontSize": 13, "labelOffset": 5, "rowPadding": 2}}}},
     {"mark": {"type": "rule", "color": "#000", "strokeWidth": 1.3},
      "encoding": {"y": {"field": "mean", "type": "quantitative"}, "y2": {"field": "hi"}}},
     {"mark": {"type": "tick", "orient": "horizontal", "color": "#000", "size": 6, "thickness": 1.5},
      "encoding": {"y": {"field": "hi", "type": "quantitative"}}}
    ]
   }
  ],
  "spacing": 28,
  "resolve": {"scale": {"fill": "independent", "x": "independent", "y": "independent", "xOffset": "independent"}, "legend": {"fill": "independent"}}
 }
],
"columns": 1, "spacing": 50,
"resolve": {"scale": {"color": "independent", "stroke": "independent", "shape": "independent", "fill": "independent", "strokeDash": "independent", "x": "independent", "y": "independent"}, "legend": {"color": "independent", "stroke": "independent", "shape": "independent", "fill": "independent", "strokeDash": "independent"}}
}
